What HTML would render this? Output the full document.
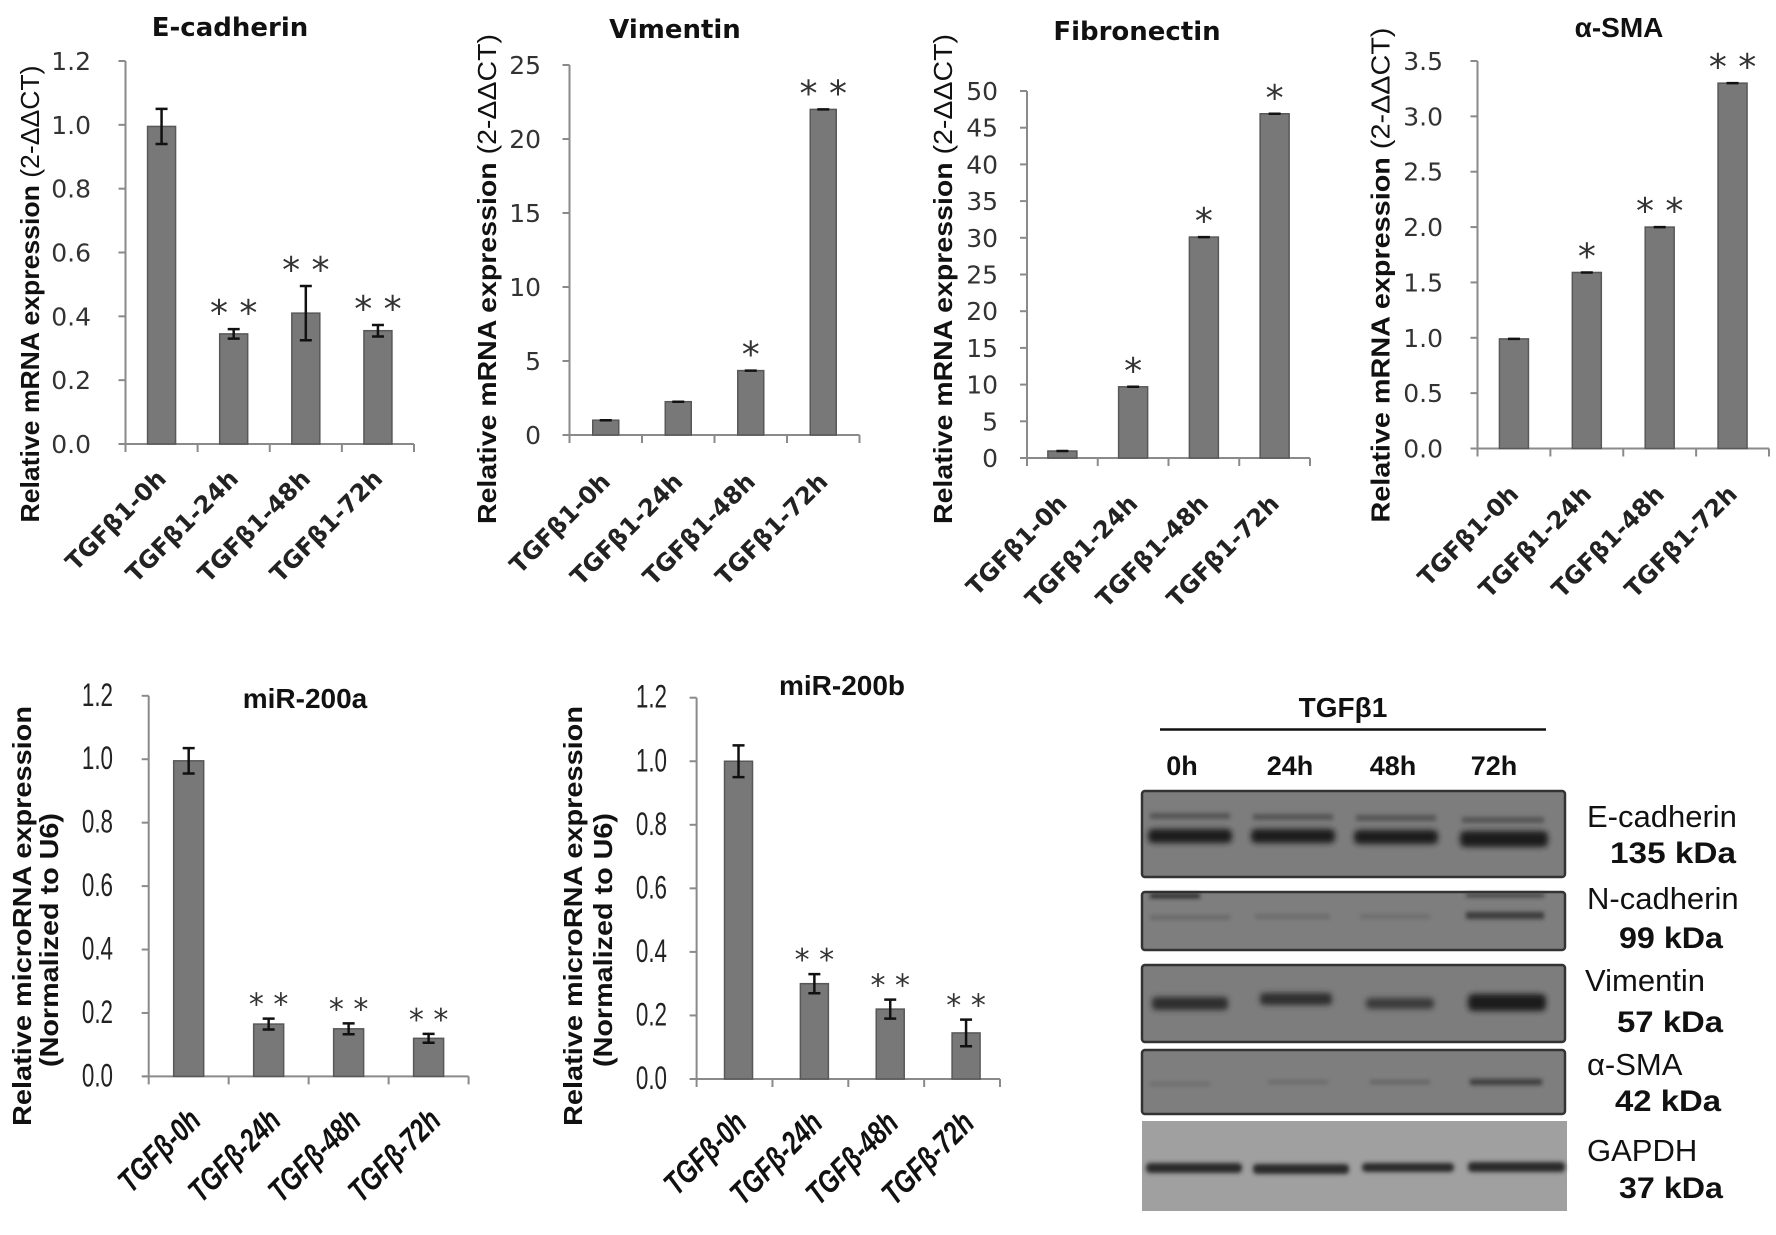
<!DOCTYPE html>
<html><head><meta charset="utf-8"><title>EMT marker figure</title>
<style>
html,body{margin:0;padding:0;background:#fff;}
svg{display:block;}
.tick{font-family:"DejaVu Sans",sans-serif;font-size:25px;fill:#333;}
.ttl{font-family:"DejaVu Sans",sans-serif;font-size:26px;font-weight:bold;fill:#111;}
.xl{font-family:"DejaVu Sans",sans-serif;font-size:24px;font-weight:bold;fill:#222;}
.yt{font-family:"Liberation Sans",sans-serif;font-size:26px;font-weight:bold;fill:#111;}
.bt{font-family:"Liberation Sans",sans-serif;font-size:28px;fill:#222;}
.bxl{font-family:"Liberation Sans",sans-serif;font-size:29px;font-weight:bold;font-style:italic;fill:#111;}
.wb{font-family:"Liberation Sans",sans-serif;fill:#111;}
</style></head>
<body>
<svg id="fig" width="1776" height="1235" viewBox="0 0 1776 1235" xmlns="http://www.w3.org/2000/svg">
<defs>
<filter id="blur3" x="-10%" y="-100%" width="120%" height="300%"><feGaussianBlur stdDeviation="3"/></filter>
<filter id="blur2" x="-10%" y="-100%" width="120%" height="300%"><feGaussianBlur stdDeviation="2"/></filter>
</defs>

<g>
<text class="wb" x="1343" y="717" font-size="28" font-weight="bold" text-anchor="middle">TGFβ1</text>
<line x1="1160" y1="729.5" x2="1546" y2="729.5" stroke="#111" stroke-width="2.5"/>
<g font-size="27" font-weight="bold" text-anchor="middle" class="wb">
<text x="1182" y="775" class="wb">0h</text>
<text x="1290" y="775" class="wb">24h</text>
<text x="1393" y="775" class="wb">48h</text>
<text x="1494" y="775" class="wb">72h</text>
</g>
<g>
<rect x="1142" y="791" width="423" height="86" rx="3" fill="#7d7d7d" stroke="#333" stroke-width="2.5"/>
<g filter="url(#blur3)" fill="#1a1a1a">
<rect x="1148" y="829" width="84" height="14" rx="5"/><rect x="1251" y="829" width="84" height="14" rx="5"/>
<rect x="1354" y="830" width="84" height="14" rx="5"/><rect x="1460" y="831" width="88" height="16" rx="5"/>
</g>
<g filter="url(#blur2)" fill="#555">
<rect x="1150" y="813" width="80" height="6"/><rect x="1253" y="814" width="80" height="6"/>
<rect x="1356" y="815" width="80" height="6"/><rect x="1462" y="817" width="82" height="6"/>
</g>
</g>
<g>
<rect x="1142" y="892" width="423" height="58" rx="3" fill="#7e7e7e" stroke="#333" stroke-width="2.5"/>
<g filter="url(#blur2)">
<rect x="1150" y="894" width="50" height="4" fill="#222"/>
<rect x="1150" y="915" width="80" height="5" fill="#6a6a6a"/><rect x="1255" y="914" width="75" height="5" fill="#6c6c6c"/>
<rect x="1360" y="914" width="70" height="5" fill="#6e6e6e"/><rect x="1466" y="912" width="78" height="7" fill="#3a3a3a"/>
<rect x="1466" y="894" width="78" height="3" fill="#333"/>
</g>
</g>
<g>
<rect x="1142" y="965" width="423" height="77" rx="3" fill="#7d7d7d" stroke="#333" stroke-width="2.5"/>
<g filter="url(#blur3)">
<rect x="1152" y="997" width="76" height="13" rx="4" fill="#2e2e2e"/><rect x="1260" y="993" width="72" height="12" rx="4" fill="#2e2e2e"/>
<rect x="1366" y="998" width="68" height="11" rx="4" fill="#3a3a3a"/><rect x="1468" y="994" width="78" height="17" rx="5" fill="#1a1a1a"/>
</g>
</g>
<g>
<rect x="1142" y="1050" width="423" height="64" rx="3" fill="#7e7e7e" stroke="#333" stroke-width="2.5"/>
<g filter="url(#blur2)">
<rect x="1150" y="1082" width="60" height="4" fill="#6c6c6c"/><rect x="1268" y="1080" width="60" height="4" fill="#6a6a6a"/>
<rect x="1370" y="1080" width="60" height="4" fill="#636363"/><rect x="1470" y="1079" width="72" height="6" fill="#3c3c3c"/>
</g>
</g>
<g>
<rect x="1142" y="1121" width="425" height="90" fill="#a0a0a0"/>
<g filter="url(#blur2)" fill="#2a2a2a">
<rect x="1146" y="1163" width="96" height="10" rx="4"/><rect x="1253" y="1164" width="96" height="10" rx="4"/>
<rect x="1362" y="1163" width="92" height="9" rx="4"/><rect x="1468" y="1162" width="97" height="10" rx="4"/>
</g>
</g>
<g class="wb" font-size="31">
<text x="1587" y="827" class="wb">E-cadherin</text>
<text x="1610" y="863" class="wb" font-weight="bold" font-size="30" textLength="126" lengthAdjust="spacingAndGlyphs">135 kDa</text>
<text x="1587" y="909" class="wb">N-cadherin</text>
<text x="1619" y="948" class="wb" font-weight="bold" font-size="30" textLength="104" lengthAdjust="spacingAndGlyphs">99 kDa</text>
<text x="1585" y="991" class="wb">Vimentin</text>
<text x="1617" y="1032" class="wb" font-weight="bold" font-size="30" textLength="106" lengthAdjust="spacingAndGlyphs">57 kDa</text>
<text x="1587" y="1075" class="wb">α-SMA</text>
<text x="1615" y="1111" class="wb" font-weight="bold" font-size="30" textLength="106" lengthAdjust="spacingAndGlyphs">42 kDa</text>
<text x="1587" y="1161" class="wb">GAPDH</text>
<text x="1619" y="1198" class="wb" font-weight="bold" font-size="30" textLength="104" lengthAdjust="spacingAndGlyphs">37 kDa</text>
</g>
</g>
</svg>

<script>
// ---- data ----
const topCats = ["TGFβ1-0h","TGFβ1-24h","TGFβ1-48h","TGFβ1-72h"];
const botCats = ["TGFβ-0h","TGFβ-24h","TGFβ-48h","TGFβ-72h"];

const ecadValues = [0.995, 0.345, 0.41, 0.355];
const ecadErrors = [0.055, 0.015, 0.085, 0.018];
const ecadStars = ["", "**", "**", "**"];
const ecadTicks = [0, 0.2, 0.4, 0.6, 0.8, 1.0, 1.2];
const ecadTickLabels = ["0.0","0.2","0.4","0.6","0.8","1.0","1.2"];

const vimValues = [1.0, 2.25, 4.35, 22.0];
const vimErrors = [0, 0, 0, 0];
const vimStars = ["", "", "*", "**"];
const vimTicks = [0, 5, 10, 15, 20, 25];
const vimTickLabels = ["0","5","10","15","20","25"];

const fibValues = [0.95, 9.7, 30.1, 46.9];
const fibErrors = [0, 0, 0, 0];
const fibStars = ["", "*", "*", "*"];
const fibTicks = [0,5,10,15,20,25,30,35,40,45,50];
const fibTickLabels = ["0","5","10","15","20","25","30","35","40","45","50"];

const smaValues = [0.99, 1.59, 2.0, 3.3];
const smaErrors = [0, 0, 0, 0];
const smaStars = ["", "*", "**", "**"];
const smaTicks = [0, 0.5, 1.0, 1.5, 2.0, 2.5, 3.0, 3.5];
const smaTickLabels = ["0.0","0.5","1.0","1.5","2.0","2.5","3.0","3.5"];

const mir200aValues = [0.995, 0.165, 0.15, 0.12];
const mir200aErrors = [0.04, 0.017, 0.017, 0.014];
const mir200aStars = ["", "**", "**", "**"];
const mir200bValues = [1.0, 0.30, 0.22, 0.145];
const mir200bErrors = [0.05, 0.03, 0.03, 0.042];
const mir200bStars = ["", "**", "**", "**"];
const mirTicks = [0, 0.2, 0.4, 0.6, 0.8, 1.0, 1.2];
const mirTickLabels = ["0.0","0.2","0.4","0.6","0.8","1.0","1.2"];

// ---- rendering ----
const NS = "http://www.w3.org/2000/svg";
const svg = document.getElementById("fig");
function mk(tag, attrs, parent) {
  const e = document.createElementNS(NS, tag);
  for (const k in attrs) e.setAttribute(k, attrs[k]);
  (parent || svg).appendChild(e);
  return e;
}

function drawChart(L, cats, vals, errs, stars, ticks, tickLabels) {
  const g = mk("g", {});
  
  
  const maxV = ticks[ticks.length - 1];
  const yS = v => L.base - v / maxV * (L.base - L.top);
  const step = (L.x1 - L.x0) / cats.length;
  const xS = i => L.x0 + (i + 0.5) * step;

  const ya = mk("line", {x1: L.x0, y1: L.top, x2: L.x0, y2: L.base, stroke: "#8a8a8a", "stroke-width": 2}, g);
  
  
  const xa = mk("line", {x1: L.x0 - 6, y1: L.base, x2: L.x1, y2: L.base, stroke: "#8a8a8a", "stroke-width": 2}, g);
  
  
  for (let i = 0; i <= cats.length; i++) {
    const tx = L.x0 + i * step;
    const t = mk("line", {x1: tx, y1: L.base, x2: tx, y2: L.base + 8, stroke: "#8a8a8a", "stroke-width": 2}, g);
    
    
  }
  ticks.forEach((v, i) => {
    const y = yS(v);
    const t = mk("line", {x1: L.x0 - 7, y1: y, x2: L.x0, y2: y, stroke: "#8a8a8a", "stroke-width": 2}, g);
    
    
    let lab;
    if (L.condensed) {
      lab = mk("text", {class: "bt", transform: `translate(${L.tickX},${y + 10}) scale(0.8,1.15)`, "text-anchor": "end"}, g);
    } else {
      lab = mk("text", {class: "tick", x: L.tickX, y: y + 9, "text-anchor": "end"}, g);
    }
    lab.textContent = tickLabels[i];
    
    
  });
  vals.forEach((v, i) => {
    const cx = xS(i) + (L.barShift || 0);
    const yt = yS(v);
    const r = mk("rect", {x: cx - L.barW / 2, y: yt, width: L.barW, height: L.base - yt, fill: "#787878", stroke: "#585858", "stroke-width": 1.5}, g);
    
    
    const e = errs[i];
    const yHi = yS(v + e), yLo = yS(v - e);
    const eb = mk("path", {d: `M${cx},${yHi}V${yLo}M${cx - 6},${yHi}H${cx + 6}M${cx - 6},${yLo}H${cx + 6}`, stroke: "#111", "stroke-width": 2.5, fill: "none"}, g);
    
    
    if (stars[i]) {
      const s = mk("text", {x: cx, y: yHi - 4, "text-anchor": "middle", "font-family": "DejaVu Sans, sans-serif", "font-size": L.starSize, fill: "#333"}, g);
      s.textContent = stars[i].split("").join(" ");
      
      
    }
    const lx = xS(i) + L.lblDx, ly = L.base + L.lblDy;
    let lt;
    if (L.condensed) {
      lt = mk("text", {class: "bxl", transform: `translate(${lx},${ly}) rotate(-45) scale(0.85,1.1)`, "text-anchor": "end"}, g);
    } else {
      lt = mk("text", {class: "xl", transform: `translate(${lx},${ly}) rotate(-45)`, "text-anchor": "end"}, g);
    }
    lt.textContent = cats[i];
    
    
  });
  const tt = mk("text", {x: L.titleX, y: L.titleY, "text-anchor": "middle", class: "ttl"}, g);
  if (L.titleFont) tt.setAttribute("style", L.titleFont);
  tt.textContent = L.title;
  
  
  if (L.condensed) {
    const a = mk("text", {class: "yt", transform: `translate(${L.ytX + 10},${L.ytY}) rotate(-90)`, "text-anchor": "middle", textLength: L.ytLen, lengthAdjust: "spacingAndGlyphs", "font-size": 28}, g);
    a.textContent = "Relative microRNA expression";
    
    
    const b = mk("text", {class: "yt", transform: `translate(${L.ytX2 + 9},${L.ytY2}) rotate(-90)`, "text-anchor": "middle", textLength: L.ytLen2, lengthAdjust: "spacingAndGlyphs", "font-size": 26}, g);
    b.textContent = "(Normalized to U6)";
    
    
  } else {
    const a = mk("text", {class: "yt", transform: `translate(${L.ytX + 10},${L.ytY}) rotate(-90)`, "text-anchor": "middle", textLength: L.ytLen, lengthAdjust: "spacingAndGlyphs"}, g);
    const t1 = mk("tspan", {}, a); t1.textContent = "Relative mRNA expression ";
    const t2 = mk("tspan", {"font-weight": "normal"}, a); t2.textContent = "(2-ΔΔCT)";
    
    
  }
}

drawChart({name: "chart-e-cadherin", x0: 125.5, x1: 414, base: 444, top: 61, barW: 28, tickX: 91,
  title: "E-cadherin", titleX: 230, titleY: 36, ytX: 29, ytY: 294, ytLen: 457,
  lblDx: 6, lblDy: 36, starSize: 36},
  topCats, ecadValues, ecadErrors, ecadStars, ecadTicks, ecadTickLabels);
drawChart({name: "chart-vimentin", x0: 569.5, x1: 859.5, base: 435, top: 65, barW: 26, tickX: 541,
  title: "Vimentin", titleX: 675, titleY: 38, ytX: 486, ytY: 279, ytLen: 490,
  lblDx: 6, lblDy: 48, starSize: 36},
  topCats, vimValues, vimErrors, vimStars, vimTicks, vimTickLabels);
drawChart({name: "chart-fibronectin", x0: 1027, x1: 1310, base: 458, top: 91, barW: 29, tickX: 998,
  title: "Fibronectin", titleX: 1137, titleY: 40, ytX: 942, ytY: 279, ytLen: 490,
  lblDx: 6, lblDy: 47, starSize: 36},
  topCats, fibValues, fibErrors, fibStars, fibTicks, fibTickLabels);
drawChart({name: "chart-alpha-sma", x0: 1477.5, x1: 1769, base: 448.5, top: 61, barW: 29, tickX: 1443,
  title: "α-SMA", titleX: 1619, titleY: 37, titleFont: "font-family:'Liberation Sans',sans-serif;font-size:28px", ytX: 1379.5, ytY: 275, ytLen: 495,
  lblDx: 6, lblDy: 47, starSize: 36},
  topCats, smaValues, smaErrors, smaStars, smaTicks, smaTickLabels);
drawChart({name: "chart-mir-200a", condensed: true, x0: 148.7, x1: 468.6, base: 1076.4, top: 695.8, barW: 30, tickX: 113,
  title: "miR-200a", titleX: 305, titleY: 708, titleFont: "font-family:'Liberation Sans',sans-serif;font-size:28px",
  ytX: 21, ytY: 916, ytLen: 420, ytX2: 49, ytY2: 940, ytLen2: 254,
  lblDx: 14, lblDy: 46, starSize: 30},
  botCats, mir200aValues, mir200aErrors, mir200aStars, mirTicks, mirTickLabels);
drawChart({name: "chart-mir-200b", condensed: true, x0: 696.6, x1: 1000, base: 1079, top: 697.7, barW: 28, barShift: 4, tickX: 667,
  title: "miR-200b", titleX: 842, titleY: 695, titleFont: "font-family:'Liberation Sans',sans-serif;font-size:28px",
  ytX: 572, ytY: 916, ytLen: 420, ytX2: 603, ytY2: 940, ytLen2: 254,
  lblDx: 14, lblDy: 46, starSize: 30},
  botCats, mir200bValues, mir200bErrors, mir200bStars, mirTicks, mirTickLabels);
</script>
</body></html>
